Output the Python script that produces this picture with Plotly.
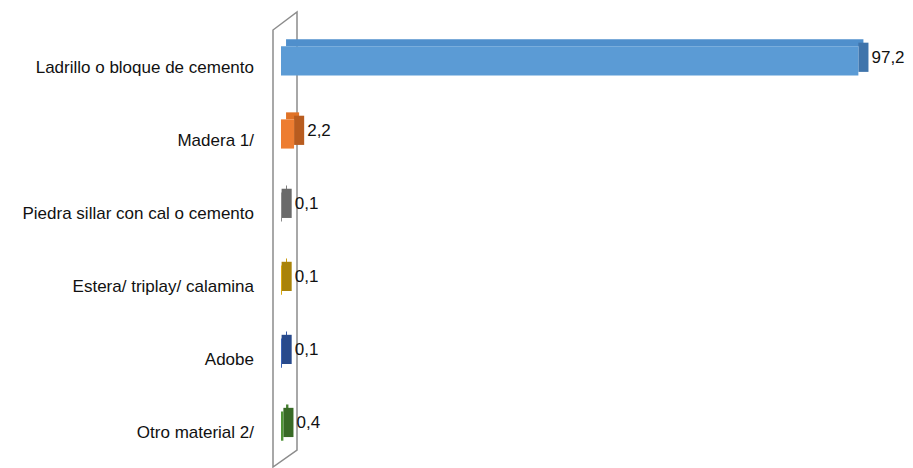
import plotly.graph_objects as go

categories = ["Ladrillo o bloque de cemento", "Madera 1/", "Piedra sillar con cal o cemento",
              "Estera/ triplay/ calamina", "Adobe", "Otro material 2/"]
values = [97.2, 2.2, 0.1, 0.1, 0.1, 0.4]
labels = ["97,2", "2,2", "0,1", "0,1", "0,1", "0,4"]

front_colors = ["#5b9bd5", "#ed7d31", "#8a8a8a", "#d9a80f", "#3a62b4", "#4e9236"]
top_colors = ["#4f8fcc", "#e07226", "#7f7f7f", "#c99c0c", "#3358a6", "#467f30"]
side_colors = ["#3f74ab", "#b85c1f", "#6a6a6a", "#a9830a", "#284a8c", "#386a26"]

depth = 1.7      # 3D side depth in x units
thick = 0.40     # bar thickness (category units)
top_h = 0.096
shift = 0.05

fig = go.Figure()
# top face
fig.add_trace(go.Bar(y=categories, x=values, base=[depth * 0.5] * len(values), orientation="h",
                     width=top_h, offset=-thick / 2 - top_h, marker=dict(color=top_colors, line=dict(width=0)),
                     hoverinfo="skip", showlegend=False))
# side face
fig.add_trace(go.Bar(y=categories, x=[depth] * len(values), base=values, orientation="h",
                     width=thick, offset=-thick / 2 - shift, marker=dict(color=side_colors, line=dict(width=0)),
                     text=labels, textposition="outside", textfont=dict(size=17, color="#111111",
                     family="Liberation Sans, Arial"),
                     cliponaxis=False, hoverinfo="skip", showlegend=False))
# front face
fig.add_trace(go.Bar(y=categories, x=values, orientation="h", width=thick, offset=-thick / 2,
                     marker=dict(color=front_colors, line=dict(width=0)), showlegend=False))

# page body has an 8px margin: figure is placed at (8, 8)
OFF = 8
L, R, T, B = 265, 5, 4, 1
W, H = 905, 460
pw = W - L - R
ph = H - T - B

def px(xs):
    return (xs - OFF - L) / pw

def py(ys):
    return (H - B - (ys - OFF)) / ph

wall = (f"M {px(273)},{py(467)} L {px(273)},{py(30)} L {px(297)},{py(12)} "
        f"L {px(297)},{py(450)} Z")
fig.add_shape(type="path", xref="paper", yref="paper", path=wall,
              line=dict(color="#8c8c8c", width=1.5), fillcolor="rgba(255,255,255,0)", layer="below")

fig.update_layout(
    width=W, height=H,
    margin=dict(l=L, r=R, t=T, b=B, autoexpand=False),
    barmode="overlay",
    plot_bgcolor="white", paper_bgcolor="white",
    font=dict(family="Liberation Sans, Arial", size=17, color="#111111"),
    xaxis=dict(range=[-8 / 5.94, -8 / 5.94 + pw / 5.94], visible=False, fixedrange=True,
               automargin=False),
    yaxis=dict(range=[5.56, -0.67], showgrid=False, showline=False, zeroline=False,
               ticks="", ticklabelstandoff=18, ticklabelshift=-6, automargin=False,
               tickfont=dict(size=17, color="#111111")),
)

fig.write_html("out.html")
